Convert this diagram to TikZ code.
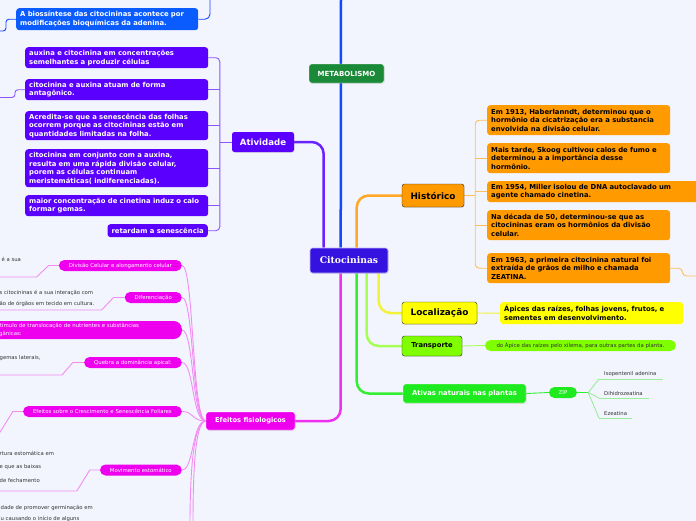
\documentclass[tikz,border=0pt]{standalone}
\usepackage{fontspec}
\setmainfont{DejaVu Sans}
\newfontfamily\titlefont{DejaVu Serif}
\usepackage{tikz}
\usetikzlibrary{positioning, backgrounds, shadows}

\definecolor{bgpage}{HTML}{F3F5FE}
\definecolor{citoblue}{HTML}{3512E0}
\definecolor{atvfill}{HTML}{5A00FF}
\definecolor{atvline}{HTML}{6A22FF}
\definecolor{atvthin}{HTML}{8A55FF}
\definecolor{biofill}{HTML}{0B5CFF}
\definecolor{bioline}{HTML}{1448FF}
\definecolor{metafill}{HTML}{1B8A38}
\definecolor{orfill}{HTML}{FF9A00}
\definecolor{orline}{HTML}{FFA726}
\definecolor{orthin}{HTML}{FFBE5C}
\definecolor{yelfill}{HTML}{FFFF00}
\definecolor{yelline}{HTML}{F2F23A}
\definecolor{trfill}{HTML}{80FF00}
\definecolor{trline}{HTML}{A6FF55}
\definecolor{ativfill}{HTML}{1FEA1F}
\definecolor{ativline}{HTML}{33EE33}
\definecolor{zipline}{HTML}{99EE99}
\definecolor{magfill}{HTML}{EE00EE}
\definecolor{magline}{HTML}{F030F0}
\definecolor{magthin}{HTML}{F28CF2}
\definecolor{leafgray}{HTML}{333333}

\begin{document}
\begin{tikzpicture}[x=1pt, y=-1pt,
    hub/.style={rectangle, rounded corners=2.5pt, draw=white!70!citoblue, line width=0.6pt, fill=citoblue, text=white, font=\titlefont\bfseries\fontsize{9.2}{11}\selectfont, minimum width=78pt, minimum height=25pt, drop shadow={opacity=0.2, shadow xshift=0.6pt, shadow yshift=-0.8pt}},
    topic/.style={rectangle, rounded corners=2.5pt, inner sep=0pt, font=\bfseries\fontsize{8.9}{10}\selectfont, drop shadow={opacity=0.2, shadow xshift=0.6pt, shadow yshift=-0.8pt}},
    card/.style={rectangle, rounded corners=3pt, anchor=north west, align=left, inner xsep=4pt, inner ysep=0pt, font=\bfseries\fontsize{6.85}{8.7}\selectfont},
    acard/.style={card, fill=atvfill, text=white, text width=175pt},
    ocard/.style={card, fill=orfill, text=black, text width=175pt, minimum height=30pt},
    pill/.style={rectangle, rounded corners=5.5pt, fill=magfill, text=white, font=\fontsize{5.4}{6}\selectfont, inner xsep=10pt, inner ysep=0pt, minimum height=11pt, anchor=east},
    leaf/.style={font=\fontsize{5.3}{11.5}\selectfont, text=leafgray, align=left, inner sep=0pt, anchor=north west},
    trunk/.style={line width=2.5pt, rounded corners=12pt},
    twig/.style={line width=0.9pt}
]
\useasboundingbox (0,0) rectangle (696,520);

% centre and main topics
\node[hub] (cito) at (349,260.5) {Citocininas};
\node[topic, fill=metafill, draw=white, text=white, font=\bfseries\fontsize{7}{8}\selectfont, minimum width=75pt, minimum height=19pt] (meta) at (346.5,73.5) {METABOLISMO};
\node[topic, fill=atvfill, text=white, font=\bfseries\fontsize{8.6}{10}\selectfont, minimum width=62pt, minimum height=20pt] (act) at (263,142) {Atividade};
\node[topic, fill=orfill, draw=black!85, text=black, minimum width=62pt, minimum height=23pt] (hist) at (433,195.5) {Histórico};
\node[topic, fill=yelfill, draw=black!85, text=black, minimum width=75pt, minimum height=22pt] (loc) at (439.5,313) {Localização};
\node[topic, fill=trfill, draw=black!85, text=black, font=\bfseries\fontsize{6.8}{8}\selectfont, minimum width=60pt, minimum height=20pt] (tra) at (432,346) {Transporte};
\node[topic, fill=ativfill, draw=white, text=white, font=\bfseries\fontsize{6.8}{8}\selectfont, minimum width=123pt, minimum height=19pt] (ativ) at (464.5,393.5) {Ativas naturais nas plantas};
\node[topic, fill=magfill, draw=white, text=white, font=\bfseries\fontsize{6.7}{8}\selectfont, minimum width=89pt, minimum height=18pt] (eff) at (250.5,421) {Efeitos fisiologicos};

% metabolismo
\node[card, fill=biofill, text=white, text width=174pt, minimum height=22pt] (bio) at (16,8) {A biossíntese das citocininas acontece por\\modificações bioquímicas da adenina.};

% atividade
\node[acard, minimum height=21pt] (a1) at (25,47) {auxina e citocinina em concentrações\\semelhantes a produzir células};
\node[acard, minimum height=21pt] (a2) at (25,79) {citocinina e auxina atuam de forma\\antagônico.};
\node[acard, minimum height=29pt] (a3) at (25,111) {Acredita-se que a senescência das folhas\\ocorrem porque as citocininas estão em\\quantidades limitadas na folha.};
\node[acard, minimum height=38pt] (a4) at (25,149) {citocinina em conjunto com a auxina,\\resulta em uma rápida divisão celular,\\porem as células continuam\\meristemáticas( indiferenciadas).};
\node[acard, minimum height=21pt] (a5) at (25,195) {maior concentração de cinetina induz o calo\\formar gemas.};
\node[card, fill=atvfill, text=white, anchor=north east, minimum height=13pt] (a6) at (208,224) {retardam a senescência};

% historico
\node[ocard] (h1) at (487,105) {Em 1913, Haberlanndt, determinou que o\\hormônio da cicatrização era a substancia\\envolvida na divisão celular.};
\node[ocard] (h2) at (487,143) {Mais tarde, Skoog cultivou calos de fumo e\\determinou a a importância desse\\hormônio.};
\node[ocard, text width=210pt, minimum height=21pt] (h3) at (487,181) {Em 1954, Miller isolou de DNA autoclavado um\\agente chamado cinetina.};
\node[ocard] (h4) at (487,210) {Na década de 50, determinou-se que as\\citocininas eram os hormônios da divisão\\celular.};
\node[ocard] (h5) at (487,253) {Em 1963, a primeira citocinina natural foi\\extraída de grãos de milho e chamada\\ZEATINA.};

% localizacao, transporte, ativas
\node[card, fill=yelfill, text=black, text width=175pt, minimum height=22pt] (l1) at (500,302) {Ápices das raízes, folhas jovens, frutos, e\\sementes em desenvolvimento.};
\node[pill, fill=trfill, text=leafgray, anchor=center, minimum width=191pt] (t1) at (580.5,345.5) {do Ápice das raízes pelo xilema, para outras partes da planta.};
\node[pill, fill=ativfill, anchor=center, minimum width=28pt, inner xsep=0pt] (zip) at (563,392.5) {ZIP};
\node[leaf, anchor=south west, inner xsep=5pt, inner ysep=2.5pt] (z1) at (599,379) {Isopentenil adenina};
\node[leaf, anchor=south west, inner xsep=5pt, inner ysep=2.5pt] (z2) at (599,398) {Dihidrozeatina};
\node[leaf, anchor=south west, inner xsep=5pt, inner ysep=2.5pt] (z3) at (599,418) {Ezeatina};

% efeitos fisiologicos
\node[pill] (e1) at (182,265.5) {Divisão Celular e alongamento celular};
\node[pill] (e2) at (182,297.5) {Diferenciação};
\node[pill, align=left, text width=178pt, minimum height=18pt, rounded corners=8pt, font=\fontsize{5.4}{8}\selectfont] (e3) at (182,330) {Estímulo de translocação de nutrientes e substâncias\\orgânicas:};
\node[pill] (e4) at (182,362.5) {Quebra a dominância apical:};
\node[pill] (e5) at (182,411.5) {Efeitos sobre o Crescimento e Senescência Foliares};
\node[pill] (e6) at (182,470) {Movimento estomático};

\node[leaf] (g1) at (1.5,257) {é a sua};
\node[leaf] (g2) at (-0.5,290) {s citocininas é a sua interação com\\ão de órgãos em tecido em cultura.};
\node[leaf] (g4) at (-0.5,355) {gemas laterais,};
\node[leaf, font=\fontsize{5.3}{13.5}\selectfont] (g6) at (-0.5,451) {rtura estomática em\\e que as baixas\\de fechamento};
\node[leaf] (g7) at (0.5,505) {dade de promover germinação em\\u causando o início de alguns};

% free ends
\coordinate (metatop) at (341,-3);
\coordinate (biotop) at (210,-3);
\coordinate (bioout) at (-3,31);
\coordinate (a2out) at (-3,97.5);
\coordinate (h5out) at (700,276);
\coordinate (g1end) at (-3,277);
\coordinate (g2end) at (-3,310);
\coordinate (g4end) at (-3,375);
\coordinate (e5end) at (-3,437);
\coordinate (g6end) at (-3,491);
\coordinate (edn1) at (190,526);
\coordinate (edn2) at (193,526);
\coordinate (actb) at ([xshift=-12pt]act.west);
\coordinate (histb) at ([xshift=11pt]hist.east);
\coordinate (zipf) at ([xshift=11pt]zip.east);

\begin{scope}[on background layer]
\fill[bgpage] (-5,-5) rectangle (705,530);
% main branches
\draw[trunk, atvline] ([xshift=14pt]cito.north west) |- (act.east);
\draw[trunk, bioline] ([xshift=31pt]cito.north west) -- (metatop);
\draw[trunk, orline] ([xshift=47pt]cito.north west) |- (hist.west);
\draw[trunk, yelline] ([xshift=69pt]cito.south west) |- (loc.west);
\draw[trunk, trline] ([xshift=57pt]cito.south west) |- (tra.west);
\draw[trunk, ativline] ([xshift=47pt]cito.south west) |- (ativ.west);
\draw[trunk, magline] ([xshift=31pt]cito.south west) |- (eff.east);
% metabolismo
\draw[twig, bioline, rounded corners=5pt] (bio.east) -| (biotop);
\draw[twig, bioline, rounded corners=3pt] (bio.west) -- ++(-10,0) |- (bioout);
% atividade
\draw[twig, atvthin] (act.west) -- (actb);
\draw[twig, atvthin, rounded corners=4pt] (a1.east) -| (actb) |- (a6.east);
\foreach \n in {a2,a3,a4,a5}
  \draw[twig, atvthin] (\n.east) -- (\n.east -| actb);
\draw[twig, atvthin, rounded corners=3pt] (a2.west) -- ++(-10,0) |- (a2out);
% historico
\draw[twig, orthin] (hist.east) -- (histb);
\draw[twig, orthin, rounded corners=4pt] (h1.west) -| (histb) |- (h5.west);
\foreach \n in {h2,h3,h4}
  \draw[twig, orthin] (\n.west) -- (\n.west -| histb);
\draw[twig, orthin, rounded corners=4pt] (h5.east) -- ++(12,0) |- (h5out);
% localizacao, transporte, ativas
\draw[twig, yelline] (loc.east) -- (l1.west);
\draw[twig, trline] (tra.east) -- (t1.west);
\draw[twig, ativline] (ativ.east) -- (zip.west);
\draw[twig, ativline] (zip.east) -- (zipf);
\foreach \n in {z1,z2,z3}
  \draw[twig, zipline] (zipf) -- (\n.south west);
\draw[twig, zipline] (z1.south west) -- ++(64,0);
\draw[twig, zipline] (z2.south west) -- ++(50,0);
\draw[twig, zipline] (z3.south west) -- ++(33,0);
% efeitos
\foreach \n in {e1,e2,e3,e4,e5,e6}
  \draw[twig, magthin] (eff.west) .. controls +(-14,0) and +(12,0) .. (\n.east);
\draw[twig, magthin] (eff.west) .. controls +(-14,0) and +(0,-40) .. (edn1);
\draw[twig, magthin] (eff.west) .. controls +(-12,0) and +(0,-40) .. (edn2);
\draw[twig, magthin] (e1.west) -- ++(-10,0) -- ++(-12,11.5) -- (g1end);
\draw[twig, magthin] (e2.west) -- ++(-11,0) -- ++(-12,12.5) -- (g2end);
\draw[twig, magthin] (e4.west) -- ++(-11,0) -- ++(-11,12.5) -- (g4end);
\draw[twig, magthin] (e5.west) -- ++(-10,0) -- (e5end);
\draw[twig, magthin] (e6.west) -- ++(-10,0) -- ++(-13,21) -- (g6end);
\end{scope}
\end{tikzpicture}
\end{document}
